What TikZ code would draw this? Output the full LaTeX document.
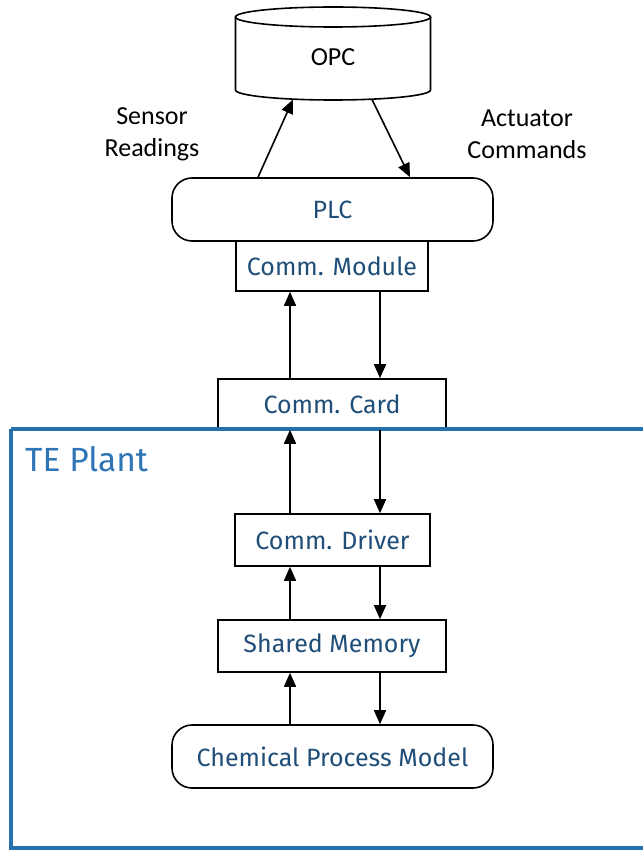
\documentclass[tikz,border=0pt]{standalone}
\usepackage{fontspec}
\setmainfont{Carlito}
\newfontfamily\boxfont{Fira Sans}
\usetikzlibrary{arrows.meta,calc}

\definecolor{boxtext}{HTML}{1F4E79}
\definecolor{plantblue}{HTML}{2471AE}
\definecolor{planttext}{HTML}{2E75B6}

\tikzset{
  box/.style={draw=black, line width=1.6pt, fill=white, inner sep=0pt,
              font=\boxfont\fontsize{25}{30}\selectfont, text=boxtext},
  roundbox/.style={box, rounded corners=20pt},
  label/.style={font=\fontsize{26}{32}\selectfont, align=center, inner sep=0pt},
  arr/.style={line width=1.6pt, -{Triangle[length=14pt,width=12pt]}},
}

\begin{document}
\begin{tikzpicture}[x=1pt,y=-1pt]
\useasboundingbox (0,0) rectangle (642,850);

% OPC data store drawn as a cylinder
\draw[line width=1.6pt, fill=white]
  (235.5,17) -- (235.5,90)
  arc[start angle=180, end angle=360, x radius=97.5pt, y radius=10pt]
  -- (430.5,17);
\draw[line width=1.6pt] (333,17) ellipse [x radius=97.5pt, y radius=10pt];
\node[label] (opc) at (333,57) {OPC};
\coordinate (opcL) at (293,99.5);
\coordinate (opcR) at (372,99.5);

% controller side
\node[roundbox, minimum width=321pt, minimum height=63pt] (plc) at (332.5,209.5) {PLC};
\node[box, minimum width=192pt, minimum height=50pt] (cmodule) at (332,266) {Comm. Module};
\node[box, minimum width=228pt, minimum height=50pt] (ccard) at (332,404) {Comm. Card};

% plant side
\node[box, minimum width=195pt, minimum height=52pt] (cdriver) at (332.5,540) {Comm. Driver};
\node[box, minimum width=228pt, minimum height=52pt] (shmem) at (332,646) {Shared Memory};
\node[roundbox, minimum width=321pt, minimum height=63pt] (cpm) at (332.5,756.5) {Chemical Process Model};

% TE Plant boundary
\draw[plantblue, line width=3.2pt] (11,429) -- (660,429);
\draw[plantblue, line width=3.2pt] (11,429) -- (11,848) -- (660,848);
\node[anchor=west, inner sep=0pt, text=planttext,
      font=\boxfont\fontsize{33.5}{38}\selectfont] (teplant) at (25,459) {TE Plant};

% link labels
\node[label] (sensor) at (152,134) {Sensor\\Readings};
\node[label] (actuator) at (527,134) {Actuator\\Commands};

% signal columns
\coordinate (upx) at (290,0);
\coordinate (dnx) at (380,0);
\coordinate (sx) at (258,0);
\coordinate (ax) at (410,0);

\draw[arr] (plc.north -| sx) -- (opcL);
\draw[arr] (opcR) -- (plc.north -| ax);

\draw[arr] (ccard.north -| upx) -- (cmodule.south -| upx);
\draw[arr] (cmodule.south -| dnx) -- (ccard.north -| dnx);

\draw[arr] (cdriver.north -| upx) -- (ccard.south -| upx);
\draw[arr] (ccard.south -| dnx) -- (cdriver.north -| dnx);

\draw[arr] (shmem.north -| upx) -- (cdriver.south -| upx);
\draw[arr] (cdriver.south -| dnx) -- (shmem.north -| dnx);

\draw[arr] (cpm.north -| upx) -- (shmem.south -| upx);
\draw[arr] (shmem.south -| dnx) -- (cpm.north -| dnx);
\end{tikzpicture}
\end{document}
